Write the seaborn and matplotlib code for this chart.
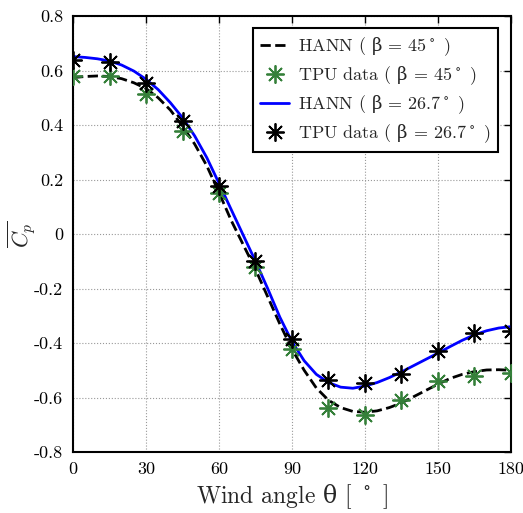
import pandas as pd
import matplotlib
matplotlib.use("Agg")
import matplotlib.pyplot as plt
from matplotlib.font_manager import FontProperties
import seaborn as sns

# TPU wind tunnel points (every 15 deg)
theta_tpu = [0, 15, 30, 45, 60, 75, 90, 105, 120, 135, 150, 165, 180]
cp_tpu_45 = [0.58, 0.58, 0.513, 0.378, 0.152, -0.12, -0.423, -0.637, -0.664,
             -0.609, -0.539, -0.521, -0.509]
cp_tpu_267 = [0.64, 0.632, 0.555, 0.415, 0.175, -0.10, -0.384, -0.536, -0.545,
              -0.515, -0.429, -0.362, -0.356]

# HANN prediction curves, read every 5 deg
theta_hann = list(range(0, 181, 5))
cp_hann_45 = [0.574, 0.578, 0.58, 0.578, 0.57, 0.555, 0.534, 0.5, 0.455, 0.396,
              0.33, 0.25, 0.152, 0.05, -0.04, -0.13, -0.23, -0.33, -0.423,
              -0.5, -0.565, -0.61, -0.637, -0.651, -0.654, -0.649, -0.637,
              -0.62, -0.597, -0.574, -0.551, -0.53, -0.515, -0.505, -0.499,
              -0.498, -0.5]
cp_hann_267 = [0.651, 0.648, 0.643, 0.635, 0.62, 0.598, 0.568, 0.53, 0.482,
               0.427, 0.36, 0.28, 0.186, 0.09, -0.005, -0.10, -0.2, -0.305,
               -0.395, -0.465, -0.515, -0.545, -0.562, -0.566, -0.558, -0.545,
               -0.527, -0.506, -0.483, -0.46, -0.437, -0.413, -0.39, -0.37,
               -0.355, -0.345, -0.34]

xticks = [0, 30, 60, 90, 120, 150, 180]
yticks = [-0.8, -0.6, -0.4, -0.2, 0, 0.2, 0.4, 0.6, 0.8]
ytick_labels = ['-0.8', '-0.6', '-0.4', '-0.2', '0', '0.2', '0.4', '0.6', '0.8']

sns.set_style("white")
plt.rcParams['font.family'] = ['cmr10', 'DejaVu Serif']
# greek letters upright, taken from DejaVu Serif (cmr10 has no proper greek)
plt.rcParams['mathtext.fontset'] = 'custom'
plt.rcParams['mathtext.rm'] = 'DejaVu Serif'
plt.rcParams['mathtext.it'] = 'DejaVu Serif:italic'
plt.rcParams['axes.unicode_minus'] = False

hann = pd.DataFrame({'theta': theta_hann, 'c45': cp_hann_45, 'c267': cp_hann_267})
tpu = pd.DataFrame({'theta': theta_tpu, 'c45': cp_tpu_45, 'c267': cp_tpu_267})

fig = plt.figure(figsize=(5.23, 5.13), dpi=100)
ax = fig.add_axes([0.1396, 0.1189, 0.8374, 0.8499])

green = '#35803a'
star = (8, 2, 0)

sns.lineplot(data=hann, x='theta', y='c45', ax=ax, color='black', linestyle='--',
             linewidth=2, label=r'HANN ( $\mathrm{\beta}$ = 45$^\circ$ )', zorder=3)
ax.plot(tpu['theta'], tpu['c45'], linestyle='none', marker=star, markersize=13,
        markeredgewidth=1.3, color=green,
        label=r'TPU data ( $\mathrm{\beta}$ = 45$^\circ$ )', zorder=5)
sns.lineplot(data=hann, x='theta', y='c267', ax=ax, color='#0000ff', linewidth=2,
             label=r'HANN ( $\mathrm{\beta}$ = 26.7$^\circ$ )', zorder=4)
ax.plot(tpu['theta'], tpu['c267'], linestyle='none', marker=star, markersize=13,
        markeredgewidth=1.3, color='black',
        label=r'TPU data ( $\mathrm{\beta}$ = 26.7$^\circ$ )', zorder=6)

ax.set_xlim(0, 180)
ax.set_ylim(-0.8, 0.8)
ax.set_xticks(xticks)
ax.set_xticklabels([str(t) for t in xticks])
ax.set_yticks(yticks)
ax.set_yticklabels(ytick_labels)
ax.tick_params(direction='in', top=True, right=True, length=5, width=1,
               labelsize=13, pad=7, colors='black')
ax.grid(True, linestyle=':', color='#999999', linewidth=0.8)
for s in ax.spines.values():
    s.set_color('black')
    s.set_linewidth(1.5)

ax.set_xlabel(r'Wind angle $\mathrm{\theta}$ [ $^\circ$ ]', fontsize=17, labelpad=4)
ax.set_ylabel(r'$\overline{C_p}$', fontsize=16, math_fontfamily='cm')
ax.yaxis.set_label_coords(-0.08, 0.5)

leg = ax.legend(loc='upper right', bbox_to_anchor=(0.97, 0.972), borderaxespad=0,
                prop=FontProperties(family=['cmr10', 'DejaVu Serif'], size=13),
                fancybox=False, framealpha=1, edgecolor='black',
                handlelength=1.6, handletextpad=0.5, labelspacing=0.35)
leg.get_frame().set_linewidth(1.5)

fig.savefig('out.png', dpi=100)
